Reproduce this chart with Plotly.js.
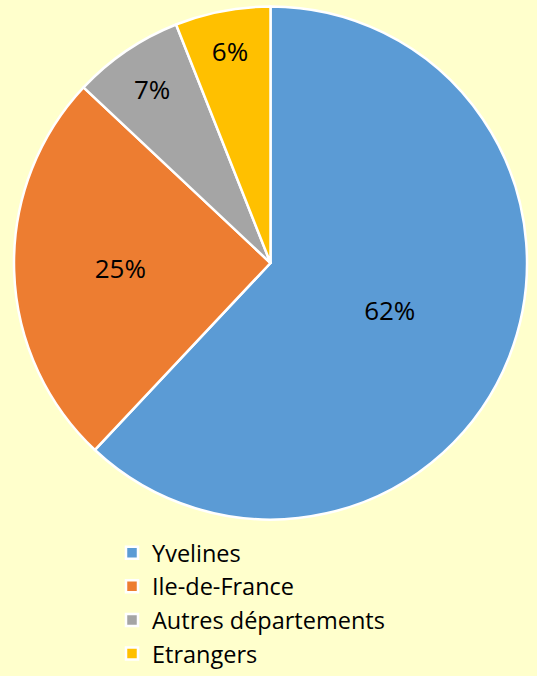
<!DOCTYPE html>
<html><head><meta charset="utf-8">
<script src="https://cdn.plot.ly/plotly-3.0.1.min.js"></script>
<style>html,body{margin:0;padding:0;background:#FFFFCC;}</style>
</head><body><div id="chart" style="width:537px;height:676px;"></div>
<script>
const labels = ['Yvelines', 'Ile-de-France', 'Autres départements', 'Etrangers'];
const values = [62, 25, 7, 6];
const colors = ['#5B9BD5', '#ED7D31', '#A5A5A5', '#FFC000'];

const data = [{
  type: 'pie',
  labels: labels,
  values: values,
  sort: false,
  direction: 'clockwise',
  rotation: 0,
  marker: {colors: colors, line: {color: '#FFFFFF', width: 2.5}},
  textinfo: 'percent',
  texttemplate: '%{percent:.0%}',
  textposition: 'inside',
  insidetextorientation: 'horizontal',
  textfont: {family: '"Open Sans", sans-serif', size: 26, color: '#000000'},
  hoverinfo: 'none',
  domain: {x: [14/537, 527/537], y: [1 - 520/676, 1 - 6/676]}
}];

const layout = {
  width: 537, height: 676,
  paper_bgcolor: '#FFFFCC', plot_bgcolor: '#FFFFCC',
  margin: {l: 0, r: 0, t: 0, b: 0},
  showlegend: true,
  legend: {
    orientation: 'v', x: 112/537, xanchor: 'left', y: 0, yanchor: 'bottom',
    font: {family: '"Open Sans", sans-serif', size: 23.5, color: '#000000'},
    bgcolor: 'rgba(0,0,0,0)', itemwidth: 30
  }
};
Plotly.newPlot('chart', data, layout, {displayModeBar: false, staticPlot: true});
</script></body></html>
